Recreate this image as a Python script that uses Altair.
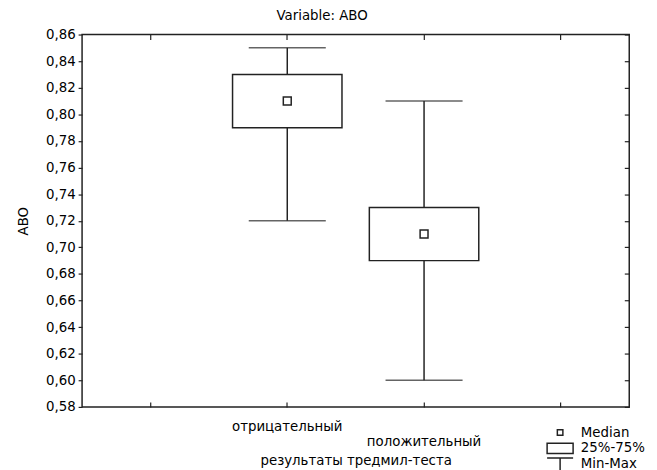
import altair as alt
import pandas as pd

# ---- data ----
groups = ["отрицательный", "положительный"]
mins = [0.72, 0.60]
q1s = [0.79, 0.69]
medians = [0.81, 0.71]
q3s = [0.83, 0.73]
maxs = [0.85, 0.81]

x_domain = ["", "отрицательный", "положительный", " "]
y_ticks = [0.58, 0.60, 0.62, 0.64, 0.66, 0.68, 0.70, 0.72, 0.74, 0.76, 0.78, 0.80, 0.82, 0.84, 0.86]
legend_items = ["Median", "25%-75%", "Min-Max"]
legend_shapes = [
    "M-0.2,-0.2H0.2V0.2H-0.2Z",
    "M-0.94,-0.37H0.94V0.37H-0.94Z",
    "M-0.94,-0.45H0.94M0,-0.45V0.6",
]

df = pd.DataFrame({
    "group": groups,
    "min": mins,
    "q1": q1s,
    "median": medians,
    "q3": q3s,
    "max": maxs,
    "stat": ["Median"] * len(groups),
})

FONT = "DejaVu Sans"
FS = 13.5
INK = "#222222"
label_expr_y = "replace(format(datum.value, '.2f'), '.', ',')"

xscale = alt.Scale(type="band", domain=x_domain, paddingInner=0, paddingOuter=0)
yscale = alt.Scale(domain=[0.58, 0.86], nice=False, zero=False)

base = alt.Chart(df)

whiskers = base.mark_rule(color=INK, strokeWidth=1.5).encode(
    x=alt.X("group:N", scale=xscale, sort=x_domain,
            axis=alt.Axis(orient="bottom", title="результаты тредмил-теста",
                          labelAngle=0, domain=False, offset=-5, tickSize=5,
                          labelPadding=13, labelLineHeight=15,
                          labelExpr="datum.value == 'положительный' ? ['', datum.value] : datum.value",
                          titlePadding=6)),
    y=alt.Y("min:Q", scale=yscale,
            axis=alt.Axis(orient="left", values=y_ticks, labelExpr=label_expr_y,
                          title="ABO", grid=False, domain=False, tickSize=4,
                          labelPadding=3, titlePadding=15)),
    y2="max:Q",
)

boxes = base.mark_bar(fill="white", stroke=INK, strokeWidth=1.5,
                      width=alt.RelativeBandSize(0.8)).encode(
    x=alt.X("group:N", scale=xscale, sort=x_domain,
            axis=alt.Axis(orient="top", labels=False, title=None, domain=False,
                          offset=-5, tickSize=5)),
    y=alt.Y("q1:Q", scale=yscale,
            axis=alt.Axis(orient="right", values=y_ticks, labels=False, title=None,
                          grid=False, domain=False, offset=-5, tickSize=5)),
    y2="q3:Q",
)

cap_lo = base.mark_tick(color=INK, thickness=1.5, size=78).encode(
    x=alt.X("group:N", scale=xscale, sort=x_domain, axis=None),
    y=alt.Y("min:Q", scale=yscale, axis=None),
)
cap_hi = base.mark_tick(color=INK, thickness=1.5, size=78).encode(
    x=alt.X("group:N", scale=xscale, sort=x_domain, axis=None),
    y=alt.Y("max:Q", scale=yscale, axis=None),
)

med = base.mark_point(filled=False, color=INK, strokeWidth=1.5, size=1600, opacity=1).encode(
    x=alt.X("group:N", scale=xscale, sort=x_domain, axis=None),
    y=alt.Y("median:Q", scale=yscale, axis=None),
    shape=alt.Shape("stat:N",
                    scale=alt.Scale(domain=legend_items, range=legend_shapes),
                    legend=alt.Legend(orient="none", legendX=469, legendY=395,
                                      title=None, symbolSize=784, clipHeight=16,
                                      symbolStrokeColor=INK, symbolStrokeWidth=1.5,
                                      symbolFillColor="white", labelOffset=6,
                                      rowPadding=0, labelFont=FONT,
                                      labelFontSize=FS, labelColor="black")),
)

chart = alt.layer(whiskers, boxes, cap_lo, cap_hi, med).resolve_axis(
    x="independent", y="independent"
).properties(
    width=554,
    height=377,
    padding={"left": 75, "top": 24, "right": 20, "bottom": 61},
    autosize=alt.AutoSizeParams(type="none"),
    background="white",
    title=alt.Title("Variable: ABO", font=FONT, fontSize=FS, fontWeight="normal",
                    color="black", dx=-34, offset=5),
).configure_view(
    stroke=INK, strokeWidth=1.5
).configure_axis(
    labelFont=FONT, labelFontSize=FS, labelColor="black",
    titleFont=FONT, titleFontSize=FS, titleFontWeight="normal", titleColor="black",
    tickColor=INK, tickWidth=1.2,
)

chart.save("out.html", embed_options={"renderer": "svg", "actions": False})
